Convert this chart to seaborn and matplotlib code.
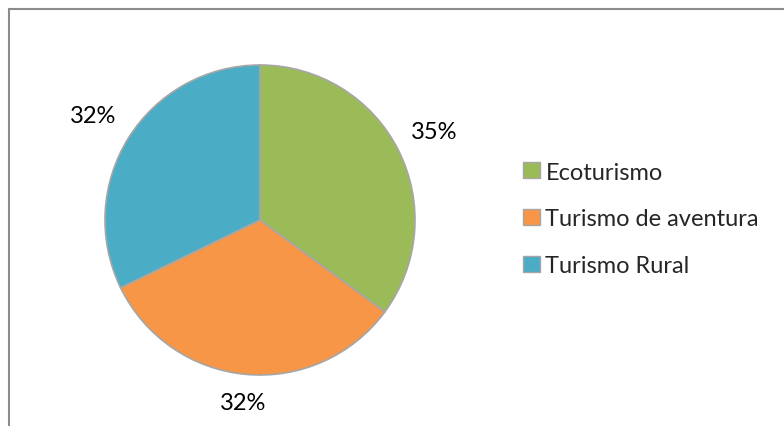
import numpy as np
import seaborn as sns
from matplotlib import pyplot as plt
from matplotlib.patches import Rectangle, Patch

sns.set_theme(style="white")
plt.rcParams['font.family'] = ['Lato', 'DejaVu Sans']

categorias = ['Ecoturismo', 'Turismo de aventura', 'Turismo Rural']
valores = [35.1, 32.7, 32.2]
colores = ['#9BBB59', '#F79646', '#4BACC6']
etiquetas = ['35%', '32%', '32%']

fig = plt.figure(figsize=(7.84, 4.27), dpi=100)
W, H = 784, 427
cx, cy, r = 260, 221, 155
ax = fig.add_axes([(cx - r) / W, (H - cy - r) / H, 2 * r / W, 2 * r / H])

wedges, _ = ax.pie(valores, colors=colores, startangle=90, counterclock=False,
                   radius=1, wedgeprops=dict(edgecolor='#A6A6A6', linewidth=1.2))
ax.set_xlim(-1, 1)
ax.set_ylim(-1, 1)
ax.set_aspect('equal')
ax.axis('off')

# etiquetas fuera del pastel
dist = [1.26, 1.18, 1.27]
for w, lab, d in zip(wedges, etiquetas, dist):
    ang = np.deg2rad((w.theta1 + w.theta2) / 2)
    ax.text(d * np.cos(ang), d * np.sin(ang), lab, ha='center', va='center',
            fontsize=17, color='black', clip_on=False)

handles = [Patch(facecolor=c, edgecolor='#A6A6A6') for c in colores]
fig.legend(handles, categorias, loc='center left', bbox_to_anchor=(514 / W, (H - 220) / H),
           frameon=False, fontsize=17, handlelength=0.68, handleheight=0.68,
           handletextpad=0.25, labelspacing=1.1, borderaxespad=0)

# marco del gráfico
fig.patches.append(Rectangle((9 / W, -0.1), 1.1, (H - 10) / H + 0.1, transform=fig.transFigure,
                             fill=False, edgecolor='#8C8C8C', linewidth=1.5))

plt.savefig('out.png', dpi=100)
plt.close()
